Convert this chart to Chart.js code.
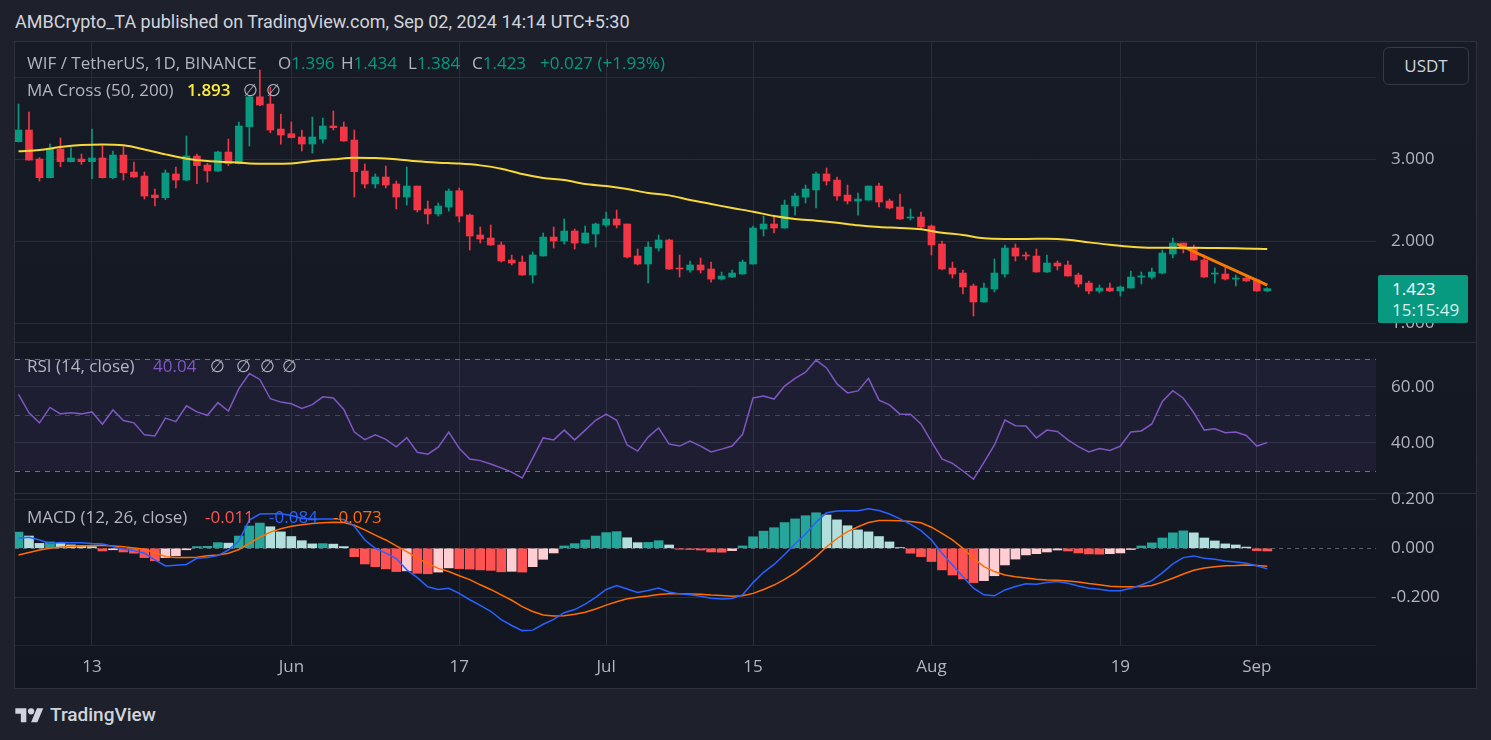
<!DOCTYPE html>
<html>
<head>
<meta charset="utf-8">
<title>WIF / TetherUS 1D</title>
<script src="https://cdn.jsdelivr.net/npm/chart.js@4.4.1/dist/chart.umd.min.js"></script>
<style>
  body { margin:0; width:1491px; height:740px; background:#1e212b; overflow:hidden; font-family:Roboto, "DejaVu Sans", sans-serif; position:relative; }
  #hdr { position:absolute; left:15px; top:10px; font-size:18px; line-height:24px; color:#d1d4dc; white-space:pre; }
  #frame { position:absolute; left:14px; top:41px; width:1461px; height:646px; border:1px solid #2e323d; background:linear-gradient(180deg,#171b26 0%,#121620 100%); overflow:hidden; }
  #frame canvas { position:absolute; left:0; }
  .sep { position:absolute; left:0; width:100%; height:1px; background:#2a2e39; }
  .lg { position:absolute; font-family:"Open Sans", Roboto, sans-serif; font-size:17px; line-height:20px; color:#b2b5be; white-space:pre; }
  #usdt { position:absolute; left:1368px; top:5px; width:84px; height:36px; border:1px solid #363a45; border-radius:6px; background:#161a25; color:#d1d4dc; font-family:"Open Sans", Roboto, sans-serif; font-size:17px; line-height:36px; text-align:center; }
  #last { position:absolute; left:1363px; top:233px; width:90px; height:48px; background:#089981; border-radius:2px; color:#fff; font-family:"Open Sans", Roboto, sans-serif; font-size:17px; line-height:21px; padding-left:14px; box-sizing:border-box; padding-top:3px; }
  #last span { color:#d7efe9; }
  #foot { position:absolute; left:15px; top:702px; height:26px; color:#d1d4dc; font-size:19px; font-weight:500; line-height:26px; }
  #foot svg { position:absolute; left:0; top:3px; }
  #foot b { position:absolute; left:35px; top:0; font-weight:500; white-space:pre; }
</style>
</head>
<body>
<div id="hdr">AMBCrypto_TA published on TradingView.com, Sep 02, 2024 14:14 UTC+5:30</div>
<div id="frame">
  <canvas id="price" width="1461" height="300" style="top:0"></canvas>
  <div class="sep" style="top:300px"></div>
  <canvas id="rsi" width="1461" height="150" style="top:301px"></canvas>
  <div class="sep" style="top:451px"></div>
  <canvas id="macd" width="1461" height="199" style="top:447px"></canvas>
  <div class="sep" style="top:603px;width:1361px;background:#232732"></div>
  <div id="legends"></div>
  <div id="usdt">USDT</div>
  <div id="last">1.423<br><span>15:15:49</span></div>
</div>
<div id="foot">
  <svg width="29" height="22" viewBox="0 0 36 28"><path fill="#d1d4dc" d="M14 22H7V11H0V4h14v18zM28 22h-8l7.5-18h8L28 22z"/><circle fill="#d1d4dc" cx="20" cy="8" r="4"/></svg>
  <b>TradingView</b>
</div>
<script>
// date axis: index 0 = May 6, 2024 ... index 119 = Sep 2, 2024
const tickIdx = [7, 26, 42, 56, 70, 87, 105, 118];
const tickLabels = ['13', 'Jun', '17', 'Jul', '15', 'Aug', '19', 'Sep'];

const opens = [3.215,3.357,3.003,2.776,3.125,2.971,3.003,2.971,3.016,2.776,3.052,2.845,2.796,2.564,2.532,2.821,2.747,3.04,2.93,2.857,
  3.089,2.947,3.398,3.762,3.674,3.369,3.312,3.272,3.186,3.247,3.406,3.394,3.235,2.857,2.699,2.784,2.699,2.54,2.674,2.394,
  2.333,2.418,2.617,2.32,2.077,2.04,1.955,1.772,1.747,1.589,1.821,2.052,2.004,2.125,1.979,2.089,2.199,2.272,2.211,1.821,
  1.723,1.918,2.016,1.674,1.65,1.711,1.662,1.54,1.564,1.601,1.723,2.15,2.211,2.162,2.43,2.54,2.626,2.821,2.747,2.564,
  2.491,2.503,2.674,2.491,2.418,2.284,2.296,2.186,1.967,1.674,1.613,1.455,1.26,1.418,1.601,1.918,1.833,1.82,1.626,1.735,
  1.711,1.589,1.491,1.394,1.43,1.394,1.43,1.564,1.564,1.613,1.845,1.979,1.918,1.772,1.601,1.601,1.54,1.552,1.528,1.396];
const highs = [3.674,3.577,3.02,3.186,3.26,3.142,3.064,3.37,3.166,3.101,3.154,2.967,2.845,2.638,2.87,2.906,3.284,3.064,2.95,3.101,
  3.247,3.455,3.77,4.088,3.88,3.552,3.455,3.357,3.516,3.503,3.589,3.455,3.357,2.943,2.821,2.918,2.735,2.906,2.674,2.491,
  2.467,2.638,2.65,2.333,2.174,2.199,1.991,1.833,1.821,1.87,2.101,2.174,2.272,2.15,2.186,2.223,2.357,2.381,2.211,1.906,
  1.991,2.077,2.028,1.833,1.76,1.796,1.747,1.625,1.65,1.772,2.186,2.308,2.308,2.503,2.589,2.686,2.845,2.894,2.784,2.686,
  2.589,2.674,2.711,2.516,2.577,2.394,2.357,2.199,2.004,1.747,1.65,1.479,1.491,1.784,1.955,1.967,1.869,1.906,1.833,1.76,
  1.76,1.613,1.516,1.467,1.491,1.455,1.638,1.625,1.674,1.894,2.04,1.979,1.955,1.833,1.674,1.699,1.589,1.577,1.54,1.434];
const lows = [3.21,2.99,2.735,2.772,2.91,2.968,2.938,2.764,2.772,2.764,2.747,2.78,2.516,2.43,2.507,2.65,2.739,2.703,2.723,2.849,
  2.922,2.944,3.162,3.655,3.325,3.186,3.26,3.101,3.077,3.199,3.357,3.22,2.54,2.65,2.65,2.65,2.394,2.443,2.357,2.211,
  2.308,2.369,2.235,1.894,1.979,1.95,1.747,1.711,1.585,1.491,1.818,1.918,1.967,1.906,1.975,1.93,2.174,2.162,1.796,1.711,
  1.491,1.881,1.658,1.564,1.625,1.613,1.503,1.528,1.56,1.598,1.72,2.065,2.101,2.158,2.32,2.467,2.406,2.686,2.503,2.455,
  2.32,2.5,2.418,2.394,2.268,2.26,2.15,1.833,1.65,1.552,1.357,1.089,1.256,1.382,1.564,1.76,1.772,1.622,1.622,1.65,
  1.574,1.443,1.357,1.37,1.39,1.333,1.427,1.479,1.54,1.601,1.796,1.857,1.768,1.56,1.491,1.528,1.455,1.512,1.39,1.384];
const closes = [3.357,2.991,2.776,3.125,2.971,3.016,2.971,3.016,2.776,3.052,2.837,2.784,2.552,2.532,2.833,2.747,3.04,2.922,2.861,3.089,
  2.947,3.406,3.762,3.662,3.357,3.296,3.264,3.186,3.272,3.406,3.386,3.223,2.849,2.699,2.784,2.686,2.54,2.674,2.382,2.333,
  2.43,2.613,2.308,2.065,2.028,1.955,1.76,1.735,1.589,1.833,2.052,2.004,2.125,1.979,2.101,2.211,2.272,2.199,1.808,1.723,
  1.93,2.016,1.662,1.662,1.711,1.65,1.54,1.577,1.613,1.747,2.162,2.211,2.162,2.442,2.552,2.638,2.821,2.735,2.552,2.491,
  2.515,2.674,2.479,2.406,2.272,2.296,2.174,1.955,1.662,1.601,1.443,1.26,1.43,1.613,1.918,1.82,1.82,1.626,1.735,1.699,
  1.577,1.479,1.394,1.43,1.394,1.443,1.564,1.577,1.625,1.857,1.979,1.906,1.772,1.564,1.613,1.54,1.552,1.516,1.394,1.423];

// MA (50) read every second day
const maDays = [0,2,4,6,8,10,12,14,16,18,20,22,24,26,28,30,32,34,36,38,40,42,44,46,48,50,52,54,56,58,
  60,62,64,66,68,70,72,74,76,78,80,82,84,86,88,90,92,94,96,98,100,102,104,106,108,110,112,114,116,118,119];
const maValues = [3.097,3.113,3.15,3.174,3.182,3.17,3.12,3.06,3.008,2.979,2.967,2.95,2.947,2.95,2.979,3.0,3.02,3.016,3.0,2.975,
  2.959,2.948,2.926,2.886,2.82,2.772,2.747,2.699,2.674,2.638,2.589,2.56,2.503,2.455,2.406,2.361,2.308,2.272,2.252,2.227,
  2.195,2.174,2.162,2.146,2.105,2.077,2.036,2.028,2.028,2.032,2.02,1.987,1.959,1.934,1.922,1.922,1.922,1.918,1.914,1.91,1.905];

// drawn trend line
const trendDays = [110.4, 119];
const trendValues = [1.967, 1.467];

const rsi = [57.3,50.7,47.1,52.6,50.3,50.7,50.3,51.0,46.6,51.7,47.9,47.1,42.8,42.4,48.8,47.5,53.2,51.0,49.8,54.3,
  51.3,59.3,64.7,62.6,55.7,54.5,53.9,52.2,53.6,56.4,56.0,51.9,43.8,41.1,42.8,41.2,38.5,41.8,36.6,35.9,
  38.4,43.8,38.0,34.2,33.6,32.4,31.0,29.5,27.4,34.5,41.7,41.0,44.5,41.0,44.5,48.0,50.2,48.0,39.2,37.0,
  42.0,45.3,39.5,38.8,40.6,38.8,36.7,37.7,38.8,43.0,56.0,56.7,55.6,60.2,63.0,65.2,69.5,66.7,61.0,57.8,
  58.5,63.0,55.2,53.5,50.2,50.2,46.7,40.4,34.2,32.6,29.9,27.0,33.0,39.2,48.1,46.1,46.0,41.7,44.5,44.0,
  41.0,38.6,36.7,37.9,37.2,38.8,43.8,44.2,46.7,54.7,58.6,55.9,50.7,44.5,45.0,43.6,43.8,42.6,38.8,40.04];
const rsiLevels = [30, 50, 70];

const macdLine = [0.041,0.045,0.034,0.020,0.024,0.023,0.023,0.020,0.018,0.007,-0.004,-0.0095,-0.020,-0.047,-0.072,-0.069,-0.066,-0.041,-0.038,-0.030,
  -0.007,0.030,0.115,0.140,0.141,0.141,0.134,0.122,0.120,0.120,0.120,0.118,0.090,0.034,0.000,-0.020,-0.042,-0.088,-0.120,-0.157,
  -0.168,-0.163,-0.184,-0.210,-0.233,-0.257,-0.291,-0.315,-0.336,-0.334,-0.310,-0.290,-0.263,-0.250,-0.228,-0.200,-0.168,-0.152,-0.166,-0.180,
  -0.172,-0.162,-0.178,-0.186,-0.190,-0.196,-0.204,-0.207,-0.205,-0.190,-0.140,-0.098,-0.066,-0.025,0.018,0.058,0.107,0.145,0.152,0.153,
  0.153,0.161,0.154,0.140,0.120,0.099,0.072,0.034,-0.020,-0.068,-0.116,-0.163,-0.190,-0.194,-0.170,-0.156,-0.145,-0.147,-0.140,-0.136,
  -0.143,-0.154,-0.163,-0.167,-0.173,-0.173,-0.163,-0.150,-0.132,-0.100,-0.064,-0.038,-0.031,-0.041,-0.045,-0.052,-0.056,-0.061,-0.071,-0.084];
const signalLine = [-0.027,-0.017,-0.007,0.000,0.004,0.008,0.0095,0.011,0.012,0.0095,0.0068,0.0014,-0.004,-0.018,-0.034,-0.038,-0.038,-0.037,-0.030,-0.027,
  -0.020,-0.005,0.020,0.045,0.066,0.080,0.090,0.096,0.101,0.104,0.106,0.105,0.094,0.075,0.054,0.034,0.0095,-0.0136,-0.041,-0.061,
  -0.082,-0.095,-0.112,-0.128,-0.149,-0.168,-0.190,-0.212,-0.238,-0.258,-0.272,-0.276,-0.275,-0.269,-0.261,-0.248,-0.232,-0.218,-0.206,-0.200,
  -0.195,-0.189,-0.186,-0.186,-0.187,-0.188,-0.191,-0.193,-0.196,-0.194,-0.184,-0.168,-0.150,-0.127,-0.100,-0.068,-0.034,0.006,0.040,0.068,
  0.088,0.105,0.113,0.113,0.112,0.109,0.104,0.086,0.061,0.034,0.000,-0.041,-0.075,-0.095,-0.109,-0.116,-0.121,-0.126,-0.129,-0.130,
  -0.133,-0.138,-0.144,-0.149,-0.155,-0.157,-0.157,-0.156,-0.152,-0.138,-0.122,-0.105,-0.090,-0.080,-0.075,-0.071,-0.070,-0.068,-0.070,-0.073];
const histogram = [0.066,0.050,0.020,0.026,0.020,0.014,0.011,0.007,-0.011,-0.006,-0.015,-0.020,-0.038,-0.051,-0.038,-0.030,-0.006,0.007,0.008,0.023,
  0.021,0.050,0.091,0.103,0.088,0.067,0.048,0.031,0.018,0.019,0.017,0.007,-0.034,-0.064,-0.075,-0.084,-0.095,-0.092,-0.102,-0.104,
  -0.097,-0.080,-0.083,-0.085,-0.088,-0.090,-0.096,-0.094,-0.097,-0.075,-0.045,-0.019,0.0095,0.019,0.034,0.050,0.064,0.068,0.043,0.023,
  0.024,0.031,0.0136,-0.004,-0.005,-0.007,-0.015,-0.016,-0.0095,0.0095,0.047,0.070,0.084,0.105,0.120,0.133,0.145,0.136,0.116,0.092,
  0.075,0.067,0.048,0.026,0.003,-0.020,-0.034,-0.054,-0.088,-0.109,-0.125,-0.140,-0.132,-0.112,-0.068,-0.044,-0.027,-0.022,-0.015,-0.007,
  -0.011,-0.019,-0.023,-0.024,-0.022,-0.019,-0.005,0.0095,0.022,0.042,0.063,0.071,0.063,0.042,0.030,0.018,0.0136,0.005,-0.0095,-0.011];

const priceTicks = [1, 2, 3, 4];
const rsiTicks = [40, 60];
const macdTicks = [-0.2, 0, 0.2];

const UP = '#089981', DOWN = '#f23645';
const GRID = 'rgba(42,46,57,0.95)';
const TXT = '#b2b5be';
const xMin = -0.3335, xMax = 129.36;
const TICK_FONT = { family: '"Open Sans", Roboto, sans-serif', size: 17 };

Chart.defaults.font.family = 'Roboto, "DejaVu Sans", sans-serif';

function xScale(showLabels) {
  return {
    type: 'linear', min: xMin, max: xMax, offset: false,
    afterBuildTicks: s => { s.ticks = tickIdx.map(v => ({ value: v })); },
    afterFit: s => { s.height = showLabels ? 43 : 0; s.paddingLeft = 0; s.paddingRight = 0; },
    grid: { color: GRID, drawTicks: false, offset: false },
    border: { display: false },
    ticks: { display: showLabels, color: TXT, font: TICK_FONT, padding: 12, maxRotation: 0, autoSkip: false,
      callback: v => tickLabels[tickIdx.indexOf(v)] }
  };
}
function yScale(min, max, ticks, fmt, gridColor) {
  return {
    position: 'right', min: min, max: max,
    afterBuildTicks: s => { s.ticks = ticks.map(v => ({ value: v })); },
    afterFit: s => { s.width = 100; s.paddingTop = 0; s.paddingBottom = 0; },
    grid: { color: gridColor || GRID, drawTicks: false },
    border: { display: false },
    ticks: { color: TXT, font: TICK_FONT, padding: 15, callback: fmt }
  };
}
function baseOptions(x, y, padTop) {
  return {
    responsive: false, animation: false, devicePixelRatio: 1, events: [],
    layout: { padding: { top: padTop || 0, left: 0, right: 0, bottom: 0 }, autoPadding: false },
    plugins: { legend: { display: false }, tooltip: { enabled: false } },
    scales: { x: x, y: y }
  };
}
function hline(ctx, area, y) {
  y = Math.round(y) + 0.5;
  ctx.beginPath(); ctx.moveTo(area.left, y); ctx.lineTo(area.right, y); ctx.stroke();
}

// price pane
const candleColors = opens.map((o, i) => closes[i] >= o ? UP : DOWN);
new Chart(document.getElementById('price'), {
  type: 'bar',
  data: { datasets: [
    { type: 'line', data: maDays.map((d, k) => ({ x: d, y: maValues[k] })), borderColor: '#f7d83a', borderWidth: 2,
      pointRadius: 0, cubicInterpolationMode: 'monotone', order: 0 },
    { type: 'line', data: trendDays.map((d, k) => ({ x: d, y: trendValues[k] })), borderColor: '#f57c00', borderWidth: 3,
      pointRadius: 0, order: 0 },
    { data: opens.map((o, i) => ({ x: i, y: [lows[i], highs[i]] })), backgroundColor: candleColors, barThickness: 1,
      grouped: false, order: 2 },
    { data: opens.map((o, i) => ({ x: i, y: [o, closes[i]] })), backgroundColor: candleColors, barThickness: 7,
      minBarLength: 1, grouped: false, order: 1 }
  ] },
  options: baseOptions(xScale(false), yScale(0.772, 4.4305, priceTicks, v => v.toFixed(3)))
});

// RSI pane
const rsiDeco = {
  id: 'rsiDeco',
  beforeDatasetsDraw(chart) {
    const { ctx, chartArea: a, scales: { y } } = chart;
    const top = y.getPixelForValue(rsiLevels[2]), bot = y.getPixelForValue(rsiLevels[0]);
    ctx.save();
    ctx.fillStyle = 'rgba(126,87,194,0.1)';
    ctx.fillRect(a.left, top, a.right - a.left, bot - top);
    ctx.lineWidth = 1;
    ctx.setLineDash([5, 5]);
    ctx.strokeStyle = 'rgba(120,123,134,0.9)';
    hline(ctx, a, top); hline(ctx, a, bot);
    ctx.strokeStyle = 'rgba(120,123,134,0.45)';
    hline(ctx, a, y.getPixelForValue(rsiLevels[1]));
    ctx.restore();
  }
};
new Chart(document.getElementById('rsi'), {
  type: 'line',
  data: { datasets: [
    { data: rsi.map((v, i) => ({ x: i, y: v })), borderColor: '#7e57c2', borderWidth: 1.5, pointRadius: 0 }
  ] },
  options: baseOptions(xScale(false), yScale(22.04, 75.61, rsiTicks, v => v.toFixed(2))),
  plugins: [rsiDeco]
});

// MACD pane
const histColors = histogram.map((v, i) => {
  const prev = i > 0 ? histogram[i - 1] : -1;
  if (v >= 0) return v >= prev ? '#26a69a' : '#b2dfdb';
  return v <= prev ? '#ff5252' : '#ffcdd2';
});
const macdDeco = {
  id: 'macdDeco',
  beforeDatasetsDraw(chart) {
    const { ctx, chartArea: a, scales: { y } } = chart;
    ctx.save();
    ctx.lineWidth = 1;
    ctx.setLineDash([4, 4]);
    ctx.strokeStyle = 'rgba(120,123,134,0.7)';
    hline(ctx, a, y.getPixelForValue(0));
    ctx.restore();
  }
};
new Chart(document.getElementById('macd'), {
  type: 'bar',
  data: { datasets: [
    { type: 'line', data: macdLine.map((v, i) => ({ x: i, y: v })), borderColor: '#2962ff', borderWidth: 1.5, pointRadius: 0, order: 0 },
    { type: 'line', data: signalLine.map((v, i) => ({ x: i, y: v })), borderColor: '#ff6d00', borderWidth: 1.5, pointRadius: 0, order: 0 },
    { data: histogram.map((v, i) => ({ x: i, y: v })), backgroundColor: histColors, barThickness: 9, grouped: false, order: 1 }
  ] },
  options: baseOptions(xScale(true), yScale(-0.3947, 0.2216, macdTicks, v => v.toFixed(3),
    c => (c.tick && c.tick.value === 0) ? 'rgba(0,0,0,0)' : GRID), 5),
  plugins: [macdDeco]
});

// pane legends (frame coordinates)
const legendItems = [
  ['WIF / TetherUS, 1D, BINANCE', 12, 21, TXT],
  ['O<span style="color:#089981">1.396</span>', 263, 21, TXT],
  ['H<span style="color:#089981">1.434</span>', 326, 21, TXT],
  ['L<span style="color:#089981">1.384</span>', 393, 21, TXT],
  ['C<span style="color:#089981">1.423</span>', 457, 21, TXT],
  ['+0.027 (+1.93%)', 525, 21, '#089981'],
  ['MA Cross (50, 200)', 12, 48, TXT],
  ['<b style="font-weight:600">1.893</b>', 172, 48, '#ffeb3b'],
  ['\u2205', 228, 48, TXT], ['\u2205', 251, 48, TXT],
  ['RSI (14, close)', 12, 324, TXT],
  ['40.04', 138, 324, '#7e57c2'],
  ['\u2205', 195, 324, TXT], ['\u2205', 221, 324, TXT], ['\u2205', 245, 324, TXT], ['\u2205', 267, 324, TXT],
  ['MACD (12, 26, close)', 12, 475, TXT],
  ['-0.011', 190, 475, '#ff5252'],
  ['-0.084', 254, 475, '#2962ff'],
  ['-0.073', 318, 475, '#ff6d00']
];
const lg = document.getElementById('legends');
legendItems.forEach(([html, x, cy, color]) => {
  const d = document.createElement('div');
  d.className = 'lg';
  d.style.left = x + 'px';
  d.style.top = (cy - 10) + 'px';
  d.style.color = color;
  d.innerHTML = html;
  lg.appendChild(d);
});
</script>
</body>
</html>
